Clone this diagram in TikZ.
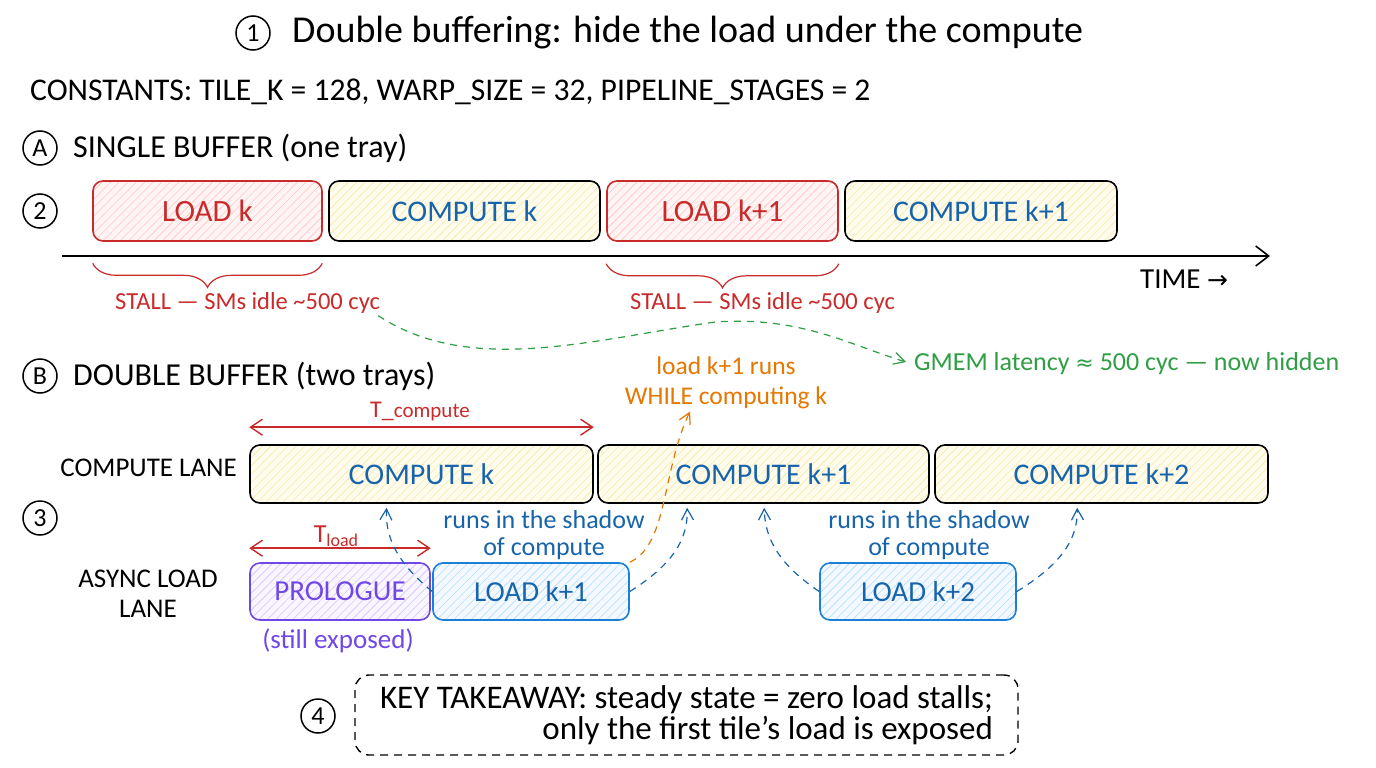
\documentclass[tikz,border=0pt]{standalone}
\usepackage{fontspec}
\setmainfont{Carlito}
\newfontfamily\sym{DejaVu Sans}
\usetikzlibrary{patterns.meta,arrows.meta,decorations.pathreplacing,calc}
\definecolor{cred}{HTML}{C92A2A}
\definecolor{cblue}{HTML}{1864AB}
\definecolor{bblue}{HTML}{1C7ED6}
\definecolor{cgreen}{HTML}{2F9E44}
\definecolor{corange}{HTML}{E67700}
\definecolor{cpurple}{HTML}{7048E8}
\definecolor{hred}{HTML}{FFC4C4}
\definecolor{fred}{HTML}{FFF4F4}
\definecolor{hyel}{HTML}{F7E8A8}
\definecolor{fyel}{HTML}{FFFCEE}
\definecolor{hblue}{HTML}{B0DCFF}
\definecolor{fblue}{HTML}{F3F9FF}
\definecolor{hpur}{HTML}{D4C2FF}
\definecolor{fpur}{HTML}{F9F6FF}
\newcommand{\fs}[1]{\fontsize{#1}{#1}\selectfont}
\tikzset{
  box/.style={rounded corners=10pt, line width=1.6pt, inner sep=0pt, font=\fs{29}},
  hatch/.style={pattern={Lines[angle=45,distance=6pt,line width=0.6pt]}, pattern color=#1},
  redbox/.style={box, draw=cred, text=cred, preaction={fill=fred}, hatch=hred, font=\fs{31}},
  yelbox/.style={box, draw=black, text=cblue, preaction={fill=fyel}, hatch=hyel, font=\fs{30}},
  bluebox/.style={box, draw=bblue, text=cblue, preaction={fill=fblue}, hatch=hblue},
  purbox/.style={box, draw=cpurple, text=cpurple, preaction={fill=fpur}, hatch=hpur},
  numc/.style={circle, draw=black, line width=1.5pt, minimum size=34pt, inner sep=0pt, font=\fs{26}},
  lbl/.style={inner sep=0pt, font=\fs{#1}},
  dbarb/.style={{Straight Barb[length=12pt,width=16pt,line width=1.4pt]}-{Straight Barb[length=12pt,width=16pt,line width=1.4pt]}},
  dashconn/.style={dashed, dash pattern=on 7pt off 6pt, line width=1.2pt, -{Straight Barb[length=11pt,width=12pt,line width=1.2pt]}},
  shadow/.style={cblue, dashconn},
}
\begin{document}
\begin{tikzpicture}[x=1pt,y=-1pt]
\useasboundingbox (0,0) rectangle (1376,768);
\fill[white] (0,0) rectangle (1376,768);
% title
\node[numc] (n1) at (253,33) {1};
\node[lbl=38, anchor=west] (title) at (292,33) {Double buffering: hide the load under the compute};
\node[lbl=31.6, anchor=west] (const) at (30,92) {CONSTANTS: TILE\_K = 128, WARP\_SIZE = 32, PIPELINE\_STAGES = 2};
% section A
\node[numc] (nA) at (40,148) {A};
\node[lbl=32, anchor=west] (secA) at (73,148) {SINGLE BUFFER (one tray)};
\node[numc] (n2) at (40,211) {2};
\node[redbox, minimum width=229pt, minimum height=60pt] (la) at (207.5,211) {LOAD k};
\node[yelbox, minimum width=271pt, minimum height=60pt] (ca) at (464.5,211) {COMPUTE k};
\node[redbox, minimum width=231pt, minimum height=60pt] (lb) at (722.5,211) {LOAD k+1};
\node[yelbox, minimum width=272pt, minimum height=60pt] (cb) at (981,211) {COMPUTE k+1};
\coordinate (ax0) at (62,256);
\coordinate (ax1) at (1270,256);
\draw[line width=1.8pt, -{Straight Barb[length=13pt,width=20pt,line width=1.6pt]}] (ax0) -- (ax1);
\draw[cred, line width=1.2pt, decorate, decoration={brace, mirror, amplitude=24pt}] ($(la.south west)+(0,22)$) -- ($(la.south east)+(0,22)$);
\draw[cred, line width=1.2pt, decorate, decoration={brace, mirror, amplitude=24pt}] ($(lb.south west)+(0,22)$) -- ($(lb.south east)+(0,22)$);
\node[lbl=24.5, anchor=west, text=cred] (st1) at (115,303) {STALL — SMs idle \textasciitilde500 cyc};
\node[lbl=24.5, anchor=west, text=cred] (st2) at (630,303) {STALL — SMs idle \textasciitilde500 cyc};
\node[lbl=29, anchor=west] (time) at (1140,279) {TIME {\sym\fs{25}→}};
\node[lbl=26, anchor=west, text=cgreen] (gmem) at (914,364) {GMEM latency {\sym\fs{22}≈} 500 cyc — now hidden};
\draw[cgreen, dashconn]
  ($(st1.south east)+(-2,2)$) .. controls (470,376) and (590,340) .. (715,322)
  .. controls (800,316) and (850,345) .. ($(gmem.west)+(-8,-2)$);
% section B
\node[numc] (nB) at (40,376) {B};
\node[lbl=32, anchor=west] (secB) at (73,376) {DOUBLE BUFFER (two trays)};
\node[lbl=25.5, align=center, text=corange] (while) at (726,383) {load k+1 runs\\[5pt]WHILE computing k};
\node[lbl=27, anchor=east] (clane) at (237,468) {COMPUTE LANE};
\node[yelbox, minimum width=343pt, minimum height=58pt] (c0) at (421.5,474) {COMPUTE k};
\node[yelbox, minimum width=331pt, minimum height=58pt] (c1) at (763.5,474) {COMPUTE k+1};
\node[yelbox, minimum width=333pt, minimum height=58pt] (c2) at (1101.5,474) {COMPUTE k+2};
\draw[cred, line width=1.6pt, dbarb] ($(c0.north west)+(0,-17)$) -- ($(c0.north east)+(0,-17)$);
\node[lbl=24, text=cred] (tc) at (420,411) {T\_{\fs{21}compute}};
\node[numc] (n3) at (40,518) {3};
\node[lbl=27, align=center] (alane) at (148,594) {ASYNC LOAD\\[3pt]LANE};
\node[purbox, minimum width=180pt, minimum height=57pt] (pro) at (340,591.5) {PROLOGUE};
\node[bluebox, minimum width=196pt, minimum height=57pt] (l1) at (531,591.5) {LOAD k+1};
\node[bluebox, minimum width=196pt, minimum height=57pt] (l2) at (918,591.5) {LOAD k+2};
\draw[cred, line width=1.6pt, dbarb] ($(pro.north west)+(0,-14)$) -- ($(pro.north east)+(0,-14)$);
\node[lbl=26, text=cred] (tl) at (336,536) {T\raisebox{-0.35ex}{\fs{18}load}};
\node[lbl=27, text=cpurple] (exp) at (338,641) {(still exposed)};
\node[lbl=26, align=center, text=cblue] (sh1) at (544,535) {runs in the shadow\\[1pt]of compute};
\node[lbl=26, align=center, text=cblue] (sh2) at (929,535) {runs in the shadow\\[1pt]of compute};
\draw[shadow] (l1.west) .. controls (400,565) and (385,540) .. ($(c0.south)+(-35,4)$);
\draw[shadow] (l1.east) .. controls (672,565) and (688,540) .. ($(c1.south west)+(90,4)$);
\draw[shadow] (l2.west) .. controls (780,565) and (765,540) .. ($(c1.south west)+(167,4)$);
\draw[shadow] (l2.east) .. controls (1060,565) and (1078,540) .. ($(c2.south west)+(143,4)$);
\draw[corange, dashconn]
  (l1.north east) .. controls (668,545) and (662,470) .. ($(while.south)+(-36,2)$);
% takeaway
\node[numc] (n4) at (318,716) {4};
\node[draw, dashed, dash pattern=on 8pt off 6pt, line width=1.4pt, rounded corners=14pt, minimum width=663pt, minimum height=80pt, align=right, font=\fs{33}, inner sep=4pt] (take) at (686.5,715) {KEY TAKEAWAY: steady state = zero load stalls;\\[-2pt]only the first tile’s load is exposed};
\end{tikzpicture}
\end{document}
